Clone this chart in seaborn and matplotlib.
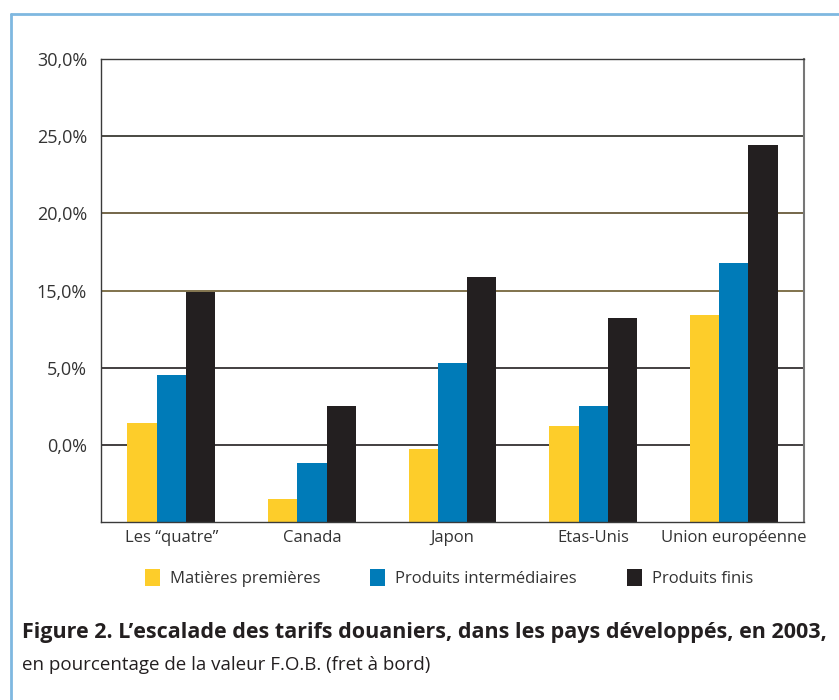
import pandas as pd
import matplotlib.pyplot as plt
import seaborn as sns
from matplotlib.patches import Patch
from matplotlib.lines import Line2D

# données
pays = ['Les \u201cquatre\u201d', 'Canada', 'Japon', 'Etas-Unis', 'Union européenne']
series = ['Matières premières', 'Produits intermédiaires', 'Produits finis']
matieres = [6.4, 1.5, 4.7, 6.2, 13.4]
intermediaires = [9.5, 3.8, 10.3, 7.5, 16.8]
finis = [14.9, 7.5, 15.9, 13.2, 24.4]
yticks = [5, 10, 15, 20, 25, 30]
ytick_labels = ['0,0%', '5,0%', '15,0%', '20,0%', '25,0%', '30,0%']

couleurs = ['#FDCD2A', '#007BB8', '#231F20']
grid_colors = ['#231F20', '#231F20', '#6B5A2E', '#5C4D2A', '#2B2A22', '#231F20']

sns.set_style('white')
plt.rcParams['font.family'] = ['Open Sans', 'DejaVu Sans']

df = pd.DataFrame({
    'Pays': pays * 3,
    'Serie': [series[0]] * 5 + [series[1]] * 5 + [series[2]] * 5,
    'Valeur': matieres + intermediaires + finis,
})

fig = plt.figure(figsize=(8.39, 7), dpi=100)
ax = fig.add_axes([0.1204, 0.2543, 0.838, 0.6614])

sns.barplot(data=df, x='Pays', y='Valeur', hue='Serie', palette=couleurs,
            width=0.625, gap=0, errorbar=None, saturation=1, ax=ax,
            edgecolor='none', linewidth=0, legend=False)

ax.set_xlim(-0.5, 4.5)
ax.set_ylim(0, 30)
ax.set_yticks(yticks)
ax.set_yticklabels(ytick_labels, fontsize=13, color='#333333')
ax.set_xlabel('')
ax.set_ylabel('')
ax.tick_params(axis='x', length=0, labelsize=12, labelcolor='#333333', pad=6)
ax.tick_params(axis='y', length=7, width=1.2, pad=3)

ax.yaxis.grid(True, linewidth=1.2)
ax.set_axisbelow(True)
for gl, c in zip(ax.yaxis.get_gridlines(), grid_colors):
    gl.set_color(c)
for t, c in zip(ax.yaxis.get_major_ticks(), grid_colors):
    t.tick1line.set_color(c)
ax.yaxis.get_major_ticks()[-1].tick1line.set_visible(False)

for s in ax.spines.values():
    s.set_color('#3A3A3A')
    s.set_linewidth(1)
ax.spines['right'].set_color('#777777')
ax.spines['right'].set_linewidth(1.5)

handles = [Patch(facecolor=c, edgecolor='none') for c in couleurs]
fig.legend(handles, series, loc='center', bbox_to_anchor=(0.535, 0.174),
           ncol=3, frameon=False, fontsize=12, handlelength=0.9,
           handleheight=1.2, handletextpad=0.6, columnspacing=3.0,
           labelcolor='#333333')

fig.text(0.026, 0.096, 'Figure 2. L\u2019escalade des tarifs douaniers, dans les pays développés, en 2003,',
         fontsize=15.5, fontweight='bold', color='#231F20', va='center')
fig.text(0.026, 0.05, 'en pourcentage de la valeur F.O.B. (fret à bord)',
         fontsize=13.5, color='#231F20', va='center')

# cadre bleu clair
fig.add_artist(Line2D([0.013, 1.0], [0.98, 0.98], color='#7FB8E0', linewidth=2, transform=fig.transFigure))
fig.add_artist(Line2D([0.013, 0.013], [0.0, 0.98], color='#7FB8E0', linewidth=2, transform=fig.transFigure))

plt.savefig('out.png', dpi=100)
